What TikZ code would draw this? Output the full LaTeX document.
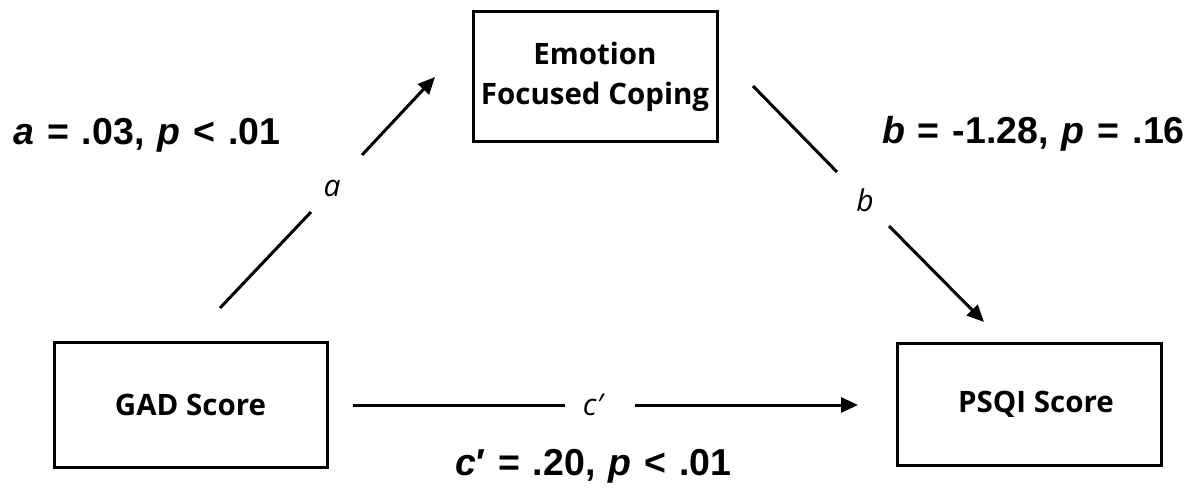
\documentclass[tikz,border=0pt]{standalone}
\usepackage{fontspec}
\usetikzlibrary{arrows.meta}
\setmainfont{Open Sans}
\newfontfamily\statfont[WordSpace=1.25]{Liberation Sans}
\tikzset{
  box/.style={draw, line width=3pt, align=center, font=\fontsize{29.5}{40}\selectfont\bfseries, inner sep=0pt},
  conn/.style={line width=3pt},
  arr/.style={line width=3pt, -{Triangle[length=17pt,width=15pt]}},
  plabel/.style={font=\fontsize{30}{34}\selectfont\itshape, inner sep=0pt},
  stat/.style={font=\fontsize{37.5}{42}\statfont\bfseries, inner sep=0pt}
}
\begin{document}
\begin{tikzpicture}[x=1pt,y=-1pt]
\useasboundingbox (0,0) rectangle (1196,489);
\node[box, minimum width=244pt, minimum height=130pt] (emo) at (595,77) {Emotion\\Focused Coping};
\node[box, minimum width=273pt, minimum height=125pt] (gad) at (190.5,404.5) {GAD Score};
\node[box, minimum width=264pt, minimum height=122pt] (psqi) at (1029,404) {\hspace*{14pt}PSQI Score};
% a path
\coordinate (a1) at (220,308);
\coordinate (a1e) at (311,212);
\coordinate (a2s) at (362,155);
\coordinate (a2) at (435,77);
\draw[conn] (a1) -- (a1e);
\draw[arr] (a2s) -- (a2);
\node[plabel] (la) at (332,188) {a};
% b path
\coordinate (b1) at (753,86);
\coordinate (b1e) at (837,172);
\coordinate (b2s) at (889,226);
\coordinate (b2) at (984,322);
\draw[conn] (b1) -- (b1e);
\draw[arr] (b2s) -- (b2);
\node[plabel] (lb) at (865,200) {b};
% c' path
\coordinate (c1) at (353,405);
\coordinate (c1e) at (565,405);
\coordinate (c2s) at (635,405);
\coordinate (c2) at (858,405);
\draw[conn] (c1) -- (c1e);
\draw[arr] (c2s) -- (c2);
\node[plabel] (lc) at (593,405) {c′};
% statistics
\node[stat, anchor=base west] (sa) at (13,145) {\textit{a} = .03, \textit{p} < .01};
\node[stat, anchor=base east] (sb) at (1185,144) {\textit{b} = -1.28, \textit{p} = .16};
\node[stat, anchor=base west] (sc) at (455,475) {\textit{c}′ = .20, \textit{p} < .01};
\end{tikzpicture}
\end{document}
